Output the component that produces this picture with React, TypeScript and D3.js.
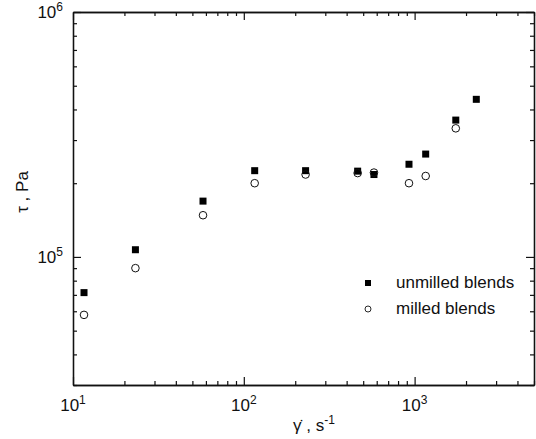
import React, { useRef, useEffect } from "react";
import * as d3 from "d3";

// shear rate (1/s) and shear stress (Pa)
const shearRate = [11.6, 23.2, 57.7, 115.8, 230, 464, 578, 927, 1161, 1742, 2297];
const unmilled = [71500, 107000, 169000, 225000, 225000, 224000, 217000, 239000, 263000, 362000, 440000];
const milled: (number | null)[] = [58000, 90000, 148000, 200000, 217000, 220000, 221000, 200000, 214000, 335000, null];

const xDomain = [10, 5000];
const yDomain = [30000, 1000000];
const xMajor = [10, 100, 1000];
const yMajor = [100000, 1000000];
const legendLabels = ["unmilled blends", "milled blends"];

export default function App() {
    const svgRef = useRef<SVGSVGElement>(null);

    useEffect(() => {
        const svg = d3.select(svgRef.current);
        svg.selectAll("*").remove();
        const width = 536,
            height = 439;
        const m = { left: 73, top: 12, right: 2, bottom: 54 };
        const font = "'Liberation Sans', Arial, sans-serif";

        const x = d3
            .scaleLog()
            .domain(xDomain)
            .range([m.left, width - m.right]);
        const y = d3
            .scaleLog()
            .domain(yDomain)
            .range([height - m.bottom, m.top]);

        const xMinor = x.ticks().filter((t) => !xMajor.includes(t));
        const yMinor = y.ticks().filter((t) => !yMajor.includes(t));

        const styleAxis = (g: any) => {
            g.selectAll("path").attr("stroke", "#111").attr("stroke-width", 1.3);
            g.selectAll("line").attr("stroke", "#111").attr("stroke-width", 1.2);
            g.selectAll("text").remove();
        };

        const axes: [any, string][] = [
            [d3.axisBottom, `translate(0,${height - m.bottom})`],
            [d3.axisTop, `translate(0,${m.top})`],
            [d3.axisLeft, `translate(${m.left},0)`],
            [d3.axisRight, `translate(${width - m.right},0)`],
        ];
        axes.forEach(([fn, tr], i) => {
            const sc = i < 2 ? x : y;
            const major = i < 2 ? xMajor : yMajor;
            const minor = i < 2 ? xMinor : yMinor;
            svg.append("g")
                .attr("transform", tr)
                .call(fn(sc).tickValues(minor).tickSize(-4).tickSizeOuter(0))
                .call(styleAxis);
            svg.append("g")
                .attr("transform", tr)
                .call(fn(sc).tickValues(major).tickSize(-8).tickSizeOuter(0))
                .call(styleAxis);
        });

        // tick labels as 10^n
        xMajor.forEach((v) => {
            const t = svg
                .append("text")
                .attr("x", x(v))
                .attr("y", 411)
                .attr("text-anchor", "middle")
                .attr("font-family", font)
                .attr("font-size", 17)
                .attr("fill", "#111");
            t.append("tspan").text("10");
            t.append("tspan")
                .attr("dy", -7)
                .attr("font-size", 12)
                .text(String(Math.round(Math.log10(v))));
        });
        yMajor.forEach((v) => {
            const t = svg
                .append("text")
                .attr("x", 63)
                .attr("y", y(v) + 6)
                .attr("text-anchor", "end")
                .attr("font-family", font)
                .attr("font-size", 17)
                .attr("fill", "#111");
            t.append("tspan").text("10");
            t.append("tspan")
                .attr("dy", -7)
                .attr("font-size", 12)
                .text(String(Math.round(Math.log10(v))));
        });

        // axis titles
        const xt = svg
            .append("text")
            .attr("x", 314)
            .attr("y", 431)
            .attr("text-anchor", "middle")
            .attr("font-family", font)
            .attr("font-size", 17)
            .attr("fill", "#111");
        xt.append("tspan").text("\u03B3\u0307 , s");
        xt.append("tspan").attr("dy", -7).attr("font-size", 12).text("-1");

        svg.append("text")
            .attr("transform", `translate(28,${192}) rotate(-90)`)
            .attr("text-anchor", "middle")
            .attr("font-family", font)
            .attr("font-size", 17)
            .attr("fill", "#111")
            .text("\u03C4 , Pa");

        // data
        const sq = 7;
        svg.append("g")
            .selectAll("rect")
            .data(shearRate.map((d, i) => [d, unmilled[i]]))
            .join("rect")
            .attr("x", (d) => x(d[0]) - sq / 2)
            .attr("y", (d) => y(d[1]) - sq / 2)
            .attr("width", sq)
            .attr("height", sq)
            .attr("fill", "#000");

        svg.append("g")
            .selectAll("circle")
            .data(
                shearRate
                    .map((d, i) => [d, milled[i]])
                    .filter((d) => d[1] != null) as number[][]
            )
            .join("circle")
            .attr("cx", (d) => x(d[0]))
            .attr("cy", (d) => y(d[1]))
            .attr("r", 3.8)
            .attr("fill", "none")
            .attr("stroke", "#111")
            .attr("stroke-width", 1);

        // legend
        const lg = svg.append("g");
        lg.append("rect")
            .attr("x", 368 - 3)
            .attr("y", 283 - 3)
            .attr("width", 6)
            .attr("height", 6)
            .attr("fill", "#000");
        lg.append("circle")
            .attr("cx", 368)
            .attr("cy", 309)
            .attr("r", 3)
            .attr("fill", "none")
            .attr("stroke", "#111")
            .attr("stroke-width", 0.9);
        legendLabels.forEach((l, i) => {
            lg.append("text")
                .attr("x", 396)
                .attr("y", 288 + i * 26)
                .attr("font-family", font)
                .attr("font-size", 17)
                .attr("fill", "#111")
                .text(l);
        });
    }, []);

    return (
        <svg
            ref={svgRef}
            width={536}
            height={439}
            style={{ position: "absolute", left: 0, top: 0, background: "#fff" }}
        ></svg>
    );
}
